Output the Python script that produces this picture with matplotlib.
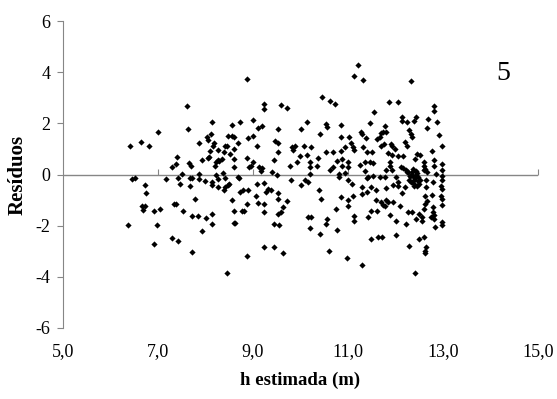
import numpy as np
import matplotlib
matplotlib.use("Agg")
import matplotlib.pyplot as plt
from matplotlib.ticker import FuncFormatter

# data (h estimada, residuo)
h_est = [
    6.41, 6.65, 6.81, 7.01, 7.30, 6.46, 6.52, 7.17, 6.72, 6.75, 6.66, 6.73, 6.68, 6.92, 7.04,
    6.37, 6.99, 7.30, 6.92, 7.34,
    7.62, 7.64, 8.14, 8.55, 7.41, 7.38, 7.65, 7.70, 7.50, 7.43, 7.46, 7.67, 7.72, 7.67, 7.87,
    8.03, 8.05, 8.12, 8.17, 8.15, 8.09, 8.07, 8.05, 7.92, 8.27, 8.26, 8.23, 8.21, 8.29, 8.34,
    8.41, 8.45, 8.40, 8.52, 8.48, 8.55, 8.59, 8.59, 8.61, 8.59, 7.86, 7.86, 7.98, 8.14, 8.14,
    8.26, 8.23, 8.26, 8.37, 8.42, 8.38, 8.42, 8.47, 8.49, 7.77, 7.53, 7.72, 7.84, 8.01, 8.14,
    8.14, 7.92, 7.43, 7.72, 8.45, 8.56, 8.60, 8.59, 7.38,
    8.87, 9.24, 9.24, 9.58, 9.71, 8.73, 8.99, 9.11, 9.20, 9.52, 8.89, 8.99, 8.69, 9.09, 9.46,
    9.53, 9.53, 9.83, 9.85, 9.44, 9.77, 8.88, 8.99, 8.96, 8.92, 9.13, 9.18, 9.17, 9.41, 9.50,
    8.69, 8.71, 9.79, 9.08, 9.24, 8.78, 8.73, 8.90, 9.06, 9.32, 9.27, 9.38, 9.53, 9.53, 9.24,
    9.11, 8.87, 9.71, 9.64, 9.58, 9.53, 9.24, 8.76, 8.81, 8.62, 9.44, 9.55, 9.24, 9.44, 9.64,
    8.87,
    11.13, 10.46, 10.62, 10.73, 10.02, 10.13, 10.53, 10.55, 10.41, 10.85, 10.85, 11.02, 11.06,
    11.11, 11.13, 9.88, 10.07, 10.23, 9.99, 9.92, 10.14, 10.20, 10.19, 10.19, 10.09, 10.16,
    10.01, 10.36, 10.34, 10.53, 10.69, 10.85, 10.94, 10.76, 10.87, 10.87, 11.01, 11.01, 10.80,
    10.82, 10.94, 10.62, 10.69, 11.01, 11.08, 10.38, 10.43, 10.85, 10.99, 11.01, 11.11, 10.74,
    10.15, 10.23, 10.20, 10.55, 10.53, 10.41, 10.76, 10.59, 10.97, 11.13, 11.13,
    11.20, 11.31, 12.32, 11.86, 12.05, 11.55, 11.46, 11.27, 11.30, 11.38, 11.32, 11.41, 11.50,
    11.25, 11.36, 11.46, 11.52, 11.60, 11.67, 11.69, 11.74, 11.79, 11.78, 11.69, 11.76, 11.90,
    11.93, 11.98, 11.85, 11.92, 12.05, 12.16, 11.88, 11.88, 11.93, 11.81, 12.12, 12.16, 12.22,
    12.27, 12.31, 12.34, 12.38, 12.38, 12.38, 12.13, 12.13, 12.25, 12.38, 12.28, 12.32, 12.34,
    12.20, 12.24, 12.40, 11.36, 11.39, 11.43, 11.53, 11.67, 11.78, 12.02, 11.95, 12.05, 12.19,
    12.05, 11.29, 11.30, 11.41, 11.48, 11.58, 11.79, 11.58, 11.69, 11.81, 11.85, 11.78, 11.74,
    11.95, 12.09, 12.13, 12.27, 12.35, 11.48, 11.60, 11.43, 11.88, 12.00, 12.21, 12.02, 11.48,
    11.64, 11.72, 12.28, 11.29, 12.40,
    12.82, 12.82, 12.87, 12.69, 12.67, 12.43, 12.92, 12.97, 12.76, 12.46, 12.52, 12.59, 12.59,
    12.62, 12.80, 12.80, 12.59, 12.66, 12.85, 12.97, 12.97, 12.97, 12.97, 12.95, 12.97, 12.95,
    12.97, 12.97, 12.78, 12.64, 12.64, 12.62, 12.76, 12.66, 12.62, 12.60, 12.41, 12.48, 12.52,
    12.46, 12.43, 12.50, 12.55, 12.55, 12.78, 12.78, 12.81, 12.74, 12.81, 12.83, 12.97, 12.97,
    12.60, 12.50, 12.64, 12.62, 12.61,
    12.25, 12.30, 12.36, 12.42, 12.45, 12.33, 12.39, 12.48, 12.28, 12.44, 12.35, 12.50,
]
residuo = [
    1.11, 1.26, 1.11, 1.68, 0.31, -0.17, -0.12, -0.17, -0.40, -0.74, -1.24, -1.24, -1.37, -1.41,
    -1.34, -1.98, -1.99, -2.50, -2.72, -1.17,
    2.68, 1.77, 2.06, 1.94, 0.70, 0.42, 0.44, 0.33, 0.02, -0.13, -0.36, -0.14, -0.14, -0.46,
    1.22, 1.48, 1.37, 1.58, 1.24, 1.13, 0.91, 0.70, 0.65, 0.57, 0.96, 0.57, 0.48, 0.35, 0.52,
    0.59, 1.13, 1.11, 0.87, 0.79, 1.52, 1.50, 1.48, 1.00, 0.61, 0.29, 0.03, -0.16, -0.27,
    -0.30, -0.39, -0.47, -0.01, -0.17, 0.07, -0.13, -0.60, -0.50, -0.40, -0.36, -0.96, -1.41,
    -1.63, -1.64, -1.71, -1.55, -1.95, -2.19, -2.60, -3.01, -3.84, -0.99, -1.43, -1.90, -1.16,
    3.74, 2.76, 2.58, 2.72, 2.59, 2.07, 2.14, 1.81, 1.91, 1.78, 1.42, 1.52, 1.22, 1.11, 1.33,
    1.24, 0.87, 1.07, 0.98, 0.57, 0.32, 0.64, 0.48, 0.35, 0.29, 0.31, 0.25, 0.12, 0.09, 0.00,
    -0.10, -0.14, -0.20, -0.37, -0.34, -0.59, -0.69, -0.60, -0.85, -0.56, -0.69, -0.59, -0.73,
    -0.95, -1.15, -1.11, -1.16, -1.03, -1.25, -1.45, -1.56, -1.45, -1.43, -1.43, -1.89, -1.95,
    -1.98, -2.85, -2.85, -3.06, -3.17,
    3.87, 3.05, 2.89, 2.76, 1.78, 2.07, 1.98, 1.85, 1.57, 1.94, 1.46, 1.48, 1.24, 1.07, 0.96,
    1.11, 1.13, 1.07, 0.72, 0.48, 0.77, 0.51, 0.31, 0.03, -0.21, -0.30, -0.40, 0.65, 0.35,
    0.87, 0.90, 0.94, 1.07, 0.52, 0.61, 0.35, 0.48, 0.29, 0.03, -0.10, 0.06, 0.16, 0.31, -0.21,
    -0.36, -0.59, -0.95, -0.86, -0.99, -1.21, -0.85, -1.34, -1.65, -1.65, -2.10, -1.73, -1.93,
    -2.32, -2.16, -2.99, -3.27, -1.64, -1.82,
    4.28, 3.70, 3.67, 2.84, 2.84, 2.43, 2.02, 1.65, 1.58, 1.42, 1.07, 0.87, 0.87, 0.38, 0.51,
    0.51, 0.46, 1.39, 1.46, 1.63, 1.65, 1.68, 1.91, 1.11, 1.18, 1.20, 1.11, 1.00, 0.85, 0.77,
    0.74, 0.74, 0.51, 0.35, 0.16, 0.16, 0.31, 0.25, 0.16, 0.09, -0.04, 0.09, -0.10, -0.23,
    -0.36, 2.24, 2.11, 2.04, 2.11, 1.76, 1.59, 1.46, 1.26, 1.11, 0.61, 0.12, -0.12, -0.08,
    -0.04, -0.10, -0.10, -0.10, -0.40, -0.43, -0.50, -0.30, -0.49, -0.76, -0.69, -0.49, -0.59,
    -0.52, -0.99, -1.08, -0.98, -1.08, -1.21, -1.19, -1.08, -1.24, -0.72, -1.47, -1.47, -1.41,
    -1.41, -1.67, -1.60, -1.82, -1.93, -2.36, -2.51, -2.45, -2.45, -2.81, -3.52, -3.84,
    2.70, 2.50, 2.04, 2.17, 1.84, 2.24, 1.56, 1.13, 0.94, 0.81, 0.77, 0.51, 0.35, 0.22, 0.55,
    0.35, 0.16, 0.09, 0.03, 0.42, 0.16, -0.04, -0.23, -0.43, -0.56, -0.82, -0.95, -1.19, -0.30,
    -0.23, -0.50, -0.82, -0.80, -1.02, -1.15, -1.34, -0.04, -0.10, -0.23, -0.43, -1.73, -1.54,
    -1.67, -1.80, -1.28, -1.47, -1.60, -1.67, -1.73, -2.06, -1.86, -1.99, -2.45, -2.51, -2.84,
    -2.97, -3.07,
    0.10, -0.05, 0.20, -0.15, 0.05, -0.30, -0.45, -0.25, -0.20, 0.15, 0.00, -0.35,
]

x_ticks = [5, 7, 9, 11, 13, 15]
y_ticks = [-6, -4, -2, 0, 2, 4, 6]

plt.rcParams['font.family'] = 'Liberation Serif'
plt.rcParams['axes.unicode_minus'] = False

fig = plt.figure(figsize=(5.57, 3.99), dpi=100)
ax = fig.add_axes([0.113, 0.178, 0.853, 0.769])

ax.scatter(h_est, residuo, marker='D', s=10, color='black', linewidths=0, zorder=3)

ax.set_xlim(5, 15)
ax.set_ylim(-6, 6)
ax.set_xticks(x_ticks)
ax.set_yticks(y_ticks)
ax.xaxis.set_major_formatter(FuncFormatter(lambda v, p: f"{v:.1f}".replace('.', ',')))

gray = '#868686'
for s in ['top', 'right', 'bottom']:
    ax.spines[s].set_visible(False)
ax.spines['left'].set_color(gray)
ax.tick_params(axis='y', direction='out', length=4, color=gray, labelsize=13, pad=5)
ax.tick_params(axis='x', length=0, labelsize=13, pad=11)

# horizontal axis line crossing at zero, with its tick marks
ax.axhline(0, color=gray, lw=1, zorder=1)
sec = ax.secondary_xaxis(0.5)
sec.set_xticks(x_ticks[1:])
sec.set_xticklabels([])
sec.tick_params(axis='x', direction='out', length=4, color=gray)
for sp in sec.spines.values():
    sp.set_visible(False)

ax.set_xlabel('h estimada (m)', fontsize=13.5, fontweight='bold', labelpad=8)
ax.set_ylabel('Resíduos', fontsize=15, fontweight='bold', labelpad=6)

ax.text(14.26, 3.95, '5', fontsize=20, ha='center', va='center')

fig.savefig('out.png', dpi=100)
